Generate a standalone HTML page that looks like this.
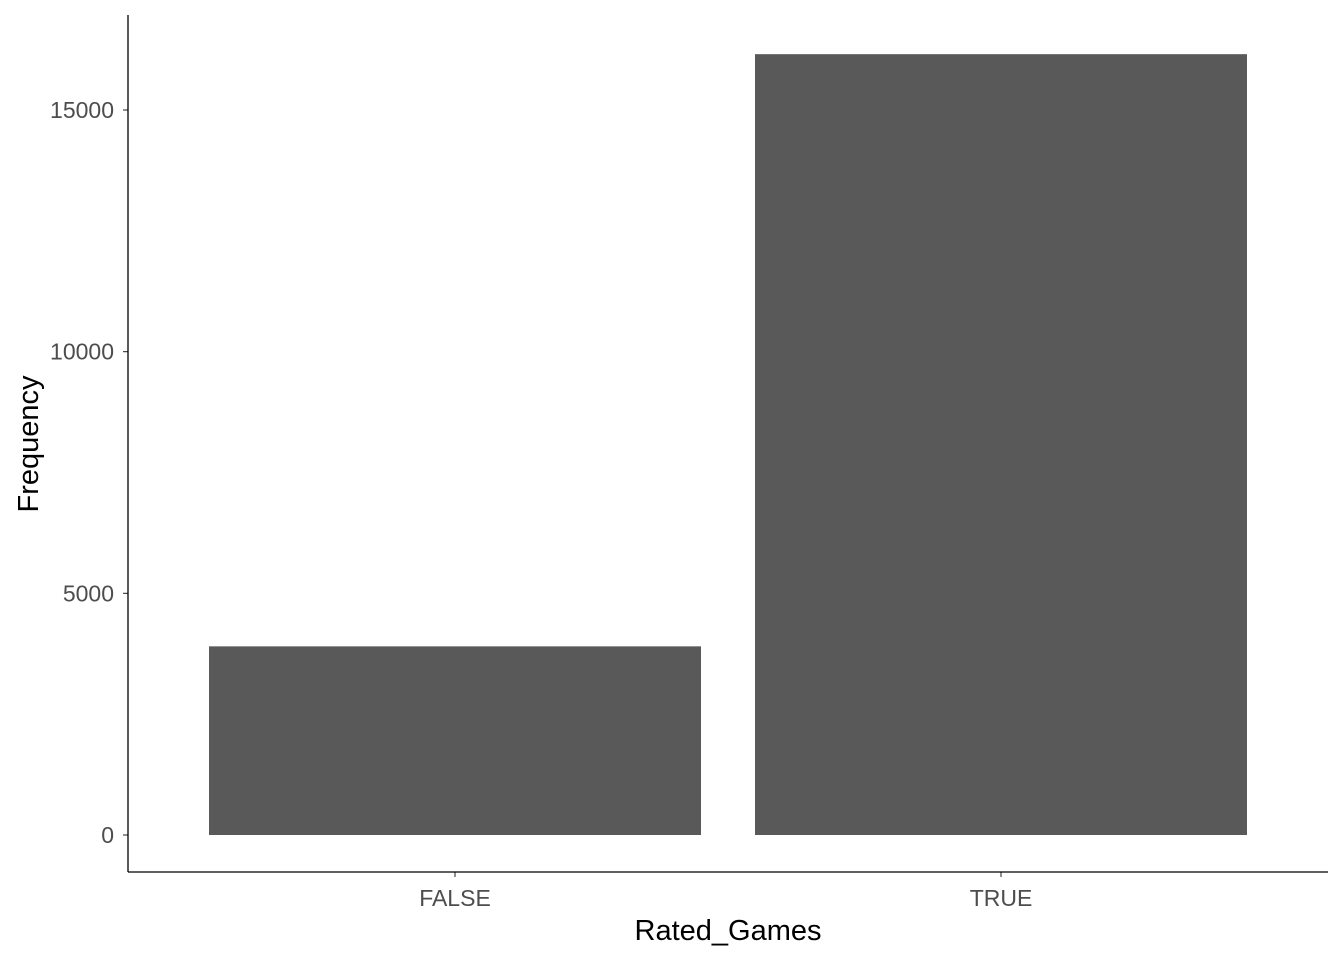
<!DOCTYPE html>
<html><head><meta charset="utf-8"><style>
body{margin:0;background:#fff}
svg{display:block;font-family:"Liberation Sans",Arial,sans-serif}
</style></head><body>
<svg id="chart" width="1344" height="960">
<g id="bars"></g>
<g id="axes"></g>
</svg>
<script>
const categories = ["FALSE", "TRUE"];
const values = [3903, 16155];
const yTicks = [0, 5000, 10000, 15000];

const ns = "http://www.w3.org/2000/svg";
const y0 = 835, pxPer = 241.67 / 5000;
function yScale(v){ return y0 - v * pxPer; }
const xLeft = 128, xRight = 1328;
const band = 546, firstCenter = 455, barW = 492;
function xScale(i){ return firstCenter + i * band; }

function mk(tag, attrs, parent){
  const e = document.createElementNS(ns, tag);
  for (const k in attrs) e.setAttribute(k, attrs[k]);
  parent.appendChild(e);
  return e;
}
const bars = document.getElementById("bars");
const axes = document.getElementById("axes");

categories.forEach((c, i) => {
  const r = mk("rect", {x: xScale(i) - barW/2, y: yScale(values[i]), width: barW, height: yScale(0) - yScale(values[i]), fill: "#595959"}, bars);
  
  
  const t = mk("line", {x1: xScale(i), x2: xScale(i), y1: 872, y2: 877, stroke: "#333", "stroke-width": 1.1}, axes);
  
  
  const l = mk("text", {x: xScale(i), y: 906, "text-anchor": "middle", "font-size": 23, fill: "#4d4d4d"}, axes);
  l.textContent = c;
  
  
});

yTicks.forEach(v => {
  const t = mk("line", {x1: 123, x2: 128, y1: yScale(v), y2: yScale(v), stroke: "#333", "stroke-width": 1.1}, axes);
  
  
  const l = mk("text", {x: 114, y: yScale(v) + 8, "text-anchor": "end", "font-size": 23, fill: "#4d4d4d"}, axes);
  l.textContent = v;
  
  
});

const ya = mk("line", {x1: 128, x2: 128, y1: 15, y2: 872, stroke: "#000", "stroke-width": 1.3}, axes);


const xa = mk("line", {x1: 128, x2: xRight, y1: 872, y2: 872, stroke: "#000", "stroke-width": 1.3}, axes);



const xt = mk("text", {x: 728, y: 940, "text-anchor": "middle", "font-size": 29, fill: "#000"}, axes);
xt.textContent = "Rated_Games";


const yt = mk("text", {x: 0, y: 0, "text-anchor": "middle", "font-size": 29, fill: "#000", transform: "translate(38,444) rotate(-90)"}, axes);
yt.textContent = "Frequency";


</script>
</body></html>
